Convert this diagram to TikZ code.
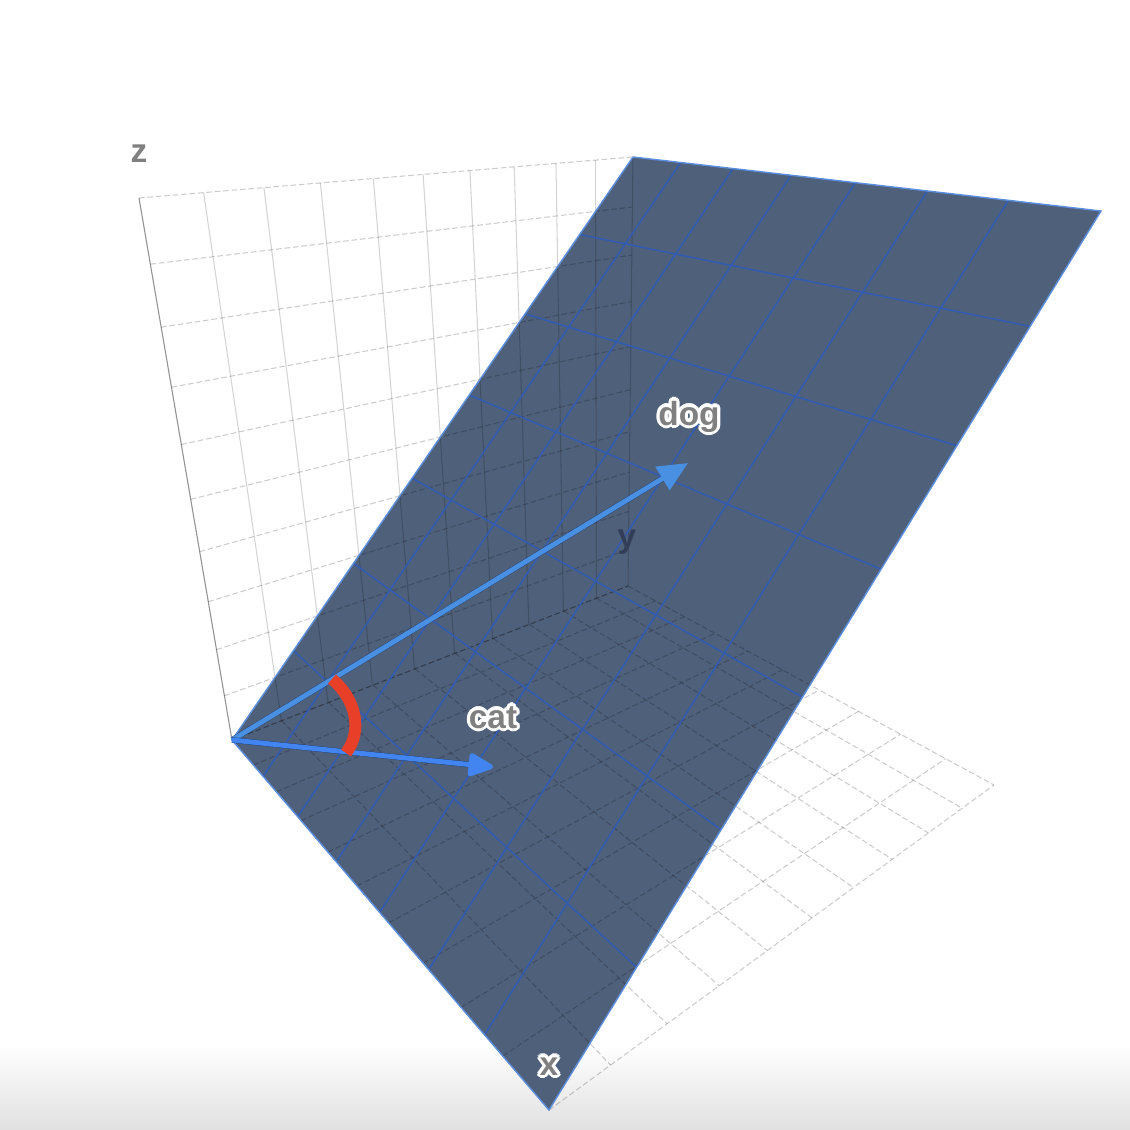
\documentclass[tikz,border=0pt]{standalone}
\usepackage{fontspec}
\setsansfont{Liberation Sans}
\usetikzlibrary{arrows.meta}

\definecolor{planefill}{RGB}{79,96,122}
\definecolor{planemesh}{RGB}{50,92,178}
\definecolor{planeedge}{RGB}{92,142,222}
\definecolor{dogblue}{RGB}{74,144,226}
\definecolor{catblue}{RGB}{66,133,240}
\definecolor{shaftshadow}{RGB}{34,62,112}
\definecolor{anglered}{RGB}{232,64,40}
\definecolor{labgray}{RGB}{128,128,128}
\definecolor{ydark}{RGB}{50,62,88}

% corner, end of u edge with its weight, end of v edge with its weight
\newcommand{\setface}[8]{\def\fcOx{#1}\def\fcOy{#2}\def\fcAx{#3}\def\fcAy{#4}\def\fcwa{#5}%
  \def\fcBx{#6}\def\fcBy{#7}\def\fcwb{#8}}
% point (u,v) of the current face, seen in perspective
\newcommand{\facecoord}[3]{%
  \pgfmathsetmacro\fcW{1+(#2)*(\fcwa-1)+(#3)*(\fcwb-1)}%
  \pgfmathsetmacro\fcX{((1-(#2)-(#3))*\fcOx+(#2)*\fcwa*\fcAx+(#3)*\fcwb*\fcBx)/\fcW}%
  \pgfmathsetmacro\fcY{((1-(#2)-(#3))*\fcOy+(#2)*\fcwa*\fcAy+(#3)*\fcwb*\fcBy)/\fcW}%
  \coordinate (#1) at (\fcX,\fcY);}
% gray label with a white rim
\newcommand{\halolabel}[3]{%
  \foreach \a in {0,30,...,330}
    \node[axlabel, text=white, shift={(\a:0.9pt)}] at (#2) {#3};
  \node[axlabel] (#1) at (#2) {#3};}

\begin{document}
\begin{tikzpicture}[x=0.01cm, y=-0.01cm,
  gridline/.style={black, draw opacity=0.2, line width=0.3pt, dash pattern=on 1.6pt off 0.8pt},
  wallline/.style={black, draw opacity=0.17, line width=0.3pt},
  meshline/.style={planemesh, line width=0.45pt},
  shaft/.style={line width=1.6pt, shaftshadow, yshift=-0.6pt, shorten >=7pt},
  axlabel/.style={font=\sffamily\bfseries\fontsize{9.5}{11}\selectfont, text=labgray, inner sep=0pt, anchor=base}]

\useasboundingbox (0,0) rectangle (1130,1130);
\fill[white] (0,0) rectangle (1130,1130);
\shade[top color=white, bottom color=black!12] (0,1045) rectangle (1130,1130);

% corners of the box
\coordinate (O) at (232,740);
\coordinate (X) at (549,1110);
\coordinate (Y) at (628,586);
\coordinate (Z) at (139,198);
\coordinate (XY) at (994,785);
\coordinate (YZ) at (633,157);
\coordinate (XYZ) at (1101,211);

% the plane z=y
\fill[planefill] (O) -- (X) -- (XYZ) -- (YZ) -- cycle;

% back wall
\setface{232}{740}{628}{586}{1.2826}{139}{198}{0.7988}
\foreach \i in {0,...,10}{
  \facecoord{s}{\i/10}{0}
  \facecoord{e}{\i/10}{1}
  \draw[wallline] (s) -- (e);
  \facecoord{s}{0}{\i/10}
  \facecoord{e}{1}{\i/10}
  \draw[gridline] (s) -- (e);
}
\draw[black, draw opacity=0.3, line width=0.3pt] (O) -- (Z);

% floor
\setface{232}{740}{549}{1110}{0.6514}{628}{586}{1.290}
\foreach \i in {0,...,10}{
  \facecoord{s}{\i/10}{0}
  \facecoord{e}{\i/10}{1}
  \draw[gridline] (s) -- (e);
  \facecoord{s}{0}{\i/10}
  \facecoord{e}{1}{\i/10}
  \draw[gridline] (s) -- (e);
}

% mesh of the plane
\setface{232}{740}{549}{1110}{0.6537}{633}{157}{1.087}
\foreach \i in {1,...,6}{
  \facecoord{s}{\i/7}{0}
  \facecoord{e}{\i/7}{1}
  \draw[meshline] (s) -- (e);
  \facecoord{s}{0}{\i/7}
  \facecoord{e}{1}{\i/7}
  \draw[meshline] (s) -- (e);
}
\draw[planeedge, line width=0.4pt] (O) -- (X) -- (XYZ) -- (YZ) -- cycle;

\node[axlabel, text=ydark] (ylab) at (627,547) {y};
\node[axlabel] (zlab) at (139,162) {z};

% the two vectors
\coordinate (dogtip) at (688,463);
\coordinate (cattip) at (493,767);
\draw[shaft] (O) -- (dogtip);
\draw[dogblue, line width=1.4pt, yshift=0.3pt, -{Triangle[length=8.5pt,width=7.5pt]}] (O) -- (dogtip);
\draw[shaft] (O) -- (cattip);
\draw[catblue, line width=1.4pt, yshift=0.3pt, -{Triangle[length=8pt,width=7pt,round]}] (O) -- (cattip);

% angle between them
\coordinate (arcdog) at (332,679);
\coordinate (arccat) at (346,753);
\draw[anglered, line width=3.4pt] (arcdog) .. controls (356,699) and (363,731) .. (arccat);

\halolabel{doglab}{689,425}{dog}
\halolabel{catlab}{493,728}{cat}
\halolabel{xlab}{549,1075}{x}
\end{tikzpicture}
\end{document}
